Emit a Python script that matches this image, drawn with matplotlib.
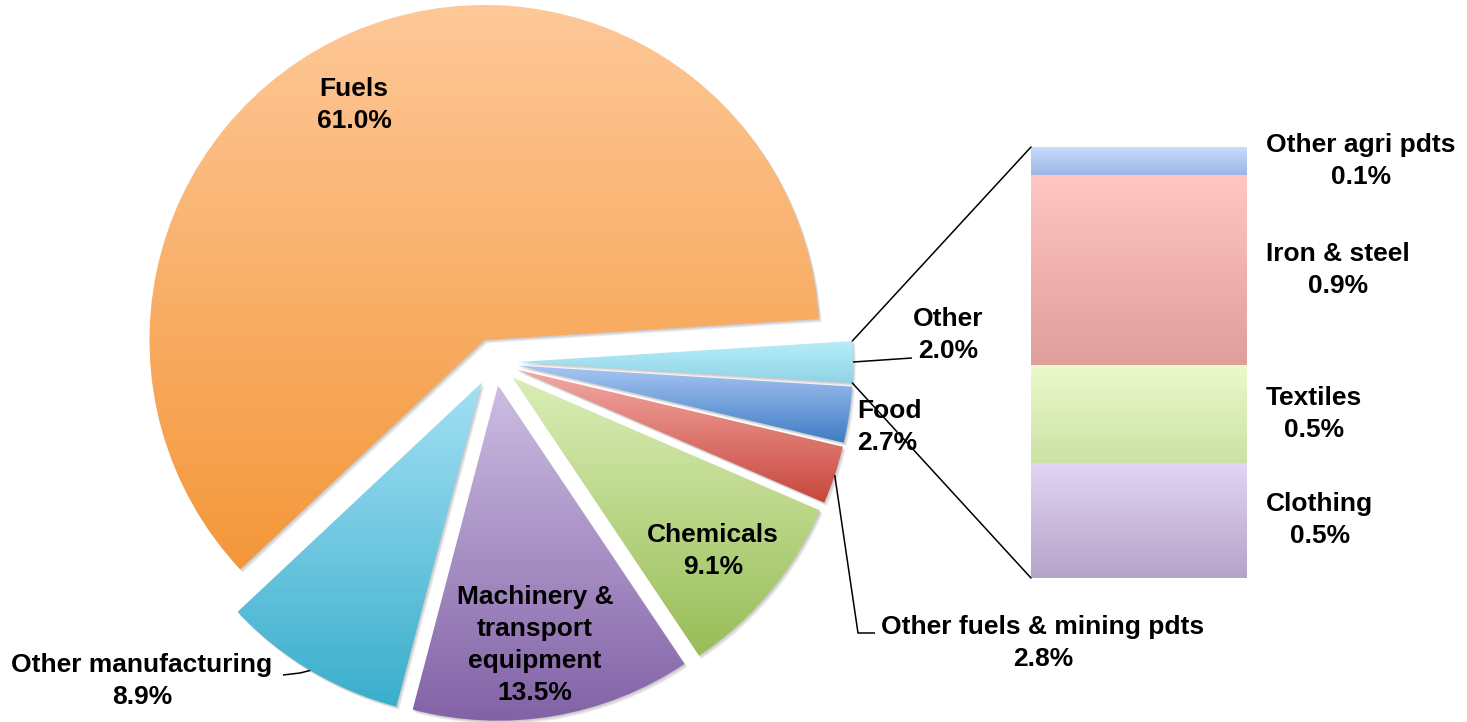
import numpy as np
import matplotlib
matplotlib.use("Agg")
import matplotlib.pyplot as plt
from matplotlib.colors import LinearSegmentedColormap
from matplotlib.patches import ConnectionPatch
import matplotlib.patheffects as pe

# ---------------- data ----------------
pie_labels = ["Other", "Food", "Other fuels & mining pdts", "Chemicals",
              "Machinery &\ntransport\nequipment", "Other manufacturing", "Fuels"]
pie_values = [2.0, 2.7, 2.8, 9.1, 13.5, 8.9, 61.0]
pie_top = ["#B8EEFA", "#A8C6F2", "#F3AAA5", "#DAEEB6", "#CCBDE2", "#A3E0F4", "#FEC898"]
pie_bottom = ["#8FD3E5", "#3E7CC4", "#C8463C", "#98BD57", "#8262A6", "#3AAECC", "#F4973A"]

bar_labels = ["Clothing", "Textiles", "Iron & steel", "Other agri pdts"]
bar_values = [0.54, 0.46, 0.89, 0.13]
bar_top = ["#E3D5F3", "#ECFACB", "#FFC6C3", "#C7DCFF"]
bar_bottom = ["#B4A4C9", "#CCE2A5", "#E09E9B", "#9CB5E3"]

# ---------------- layout (pixels) ----------------
W, H = 1467, 722
CX, CY, R, EXPL = 494, H - 362, 335, 24

plt.rcParams["font.family"] = ["Liberation Sans", "DejaVu Sans"]
FS = 19
LS = 1.43

fig = plt.figure(figsize=(W / 100, H / 100), dpi=100)
ax = fig.add_axes([0, 0, 1, 1])

wedges, _ = ax.pie(pie_values, radius=R, center=(CX, CY), explode=[EXPL] * len(pie_values),
                   startangle=3.6 * pie_values[0] / 2, counterclock=False,
                   wedgeprops=dict(linewidth=0))


def grad_fill(axis, patch, c_top, c_bot, extent):
    cmap = LinearSegmentedColormap.from_list("g", [c_bot, c_top])
    g = np.linspace(0, 1, 256).reshape(-1, 1)
    im = axis.imshow(g, extent=extent, origin="lower", cmap=cmap, aspect="auto",
                     interpolation="bilinear", zorder=patch.get_zorder() + 0.5)
    im.set_clip_path(patch)
    return im


def shadow_fx(dx, dy):
    # soft shadow built from a few stacked, slightly offset translucent copies
    return [pe.SimplePatchShadow(offset=(dx * k, dy * k), shadow_rgbFace="#707070", alpha=0.11)
            for k in (1.0, 0.75, 0.5, 0.25)]


for w, ct, cb in zip(wedges, pie_top, pie_bottom):
    w.set_facecolor("none")
    w.set_path_effects(shadow_fx(2.0, -2.4))
    ext = w.get_path().get_extents()
    grad_fill(ax, w, ct, cb, (ext.x0, ext.x1, ext.y0, ext.y1))


def arc_point(w, frac=0.5):
    a = np.deg2rad(w.theta1 + (w.theta2 - w.theta1) * frac)
    return (w.center[0] + w.r * np.cos(a), w.center[1] + w.r * np.sin(a))


txt = dict(fontsize=FS, fontweight="bold", color="black", linespacing=LS)


def label(i):
    return f"{pie_labels[i]}\n{pie_values[i]:.1f}%"


# labels inside slices
ax.text(354, H - 105, label(6), ha="center", va="center", **txt)
ax.text(535, H - 645, label(4), ha="center", va="center", **txt)
ax.text(713, H - 551, label(3), ha="center", va="center", **txt)
# outside labels
ax.text(142, H - 681, label(5), ha="center", va="center", **txt)
ax.text(1043, H - 643, label(2), ha="center", va="center", **txt)
ax.text(857, H - 427, label(1), ha="left", va="center", multialignment="left", **txt)
ax.text(948, H - 335, label(0), ha="center", va="center", **txt)

# leader lines
lk = dict(color="black", lw=1.1, solid_capstyle="butt", zorder=5)
p = arc_point(wedges[5])
ax.plot([p[0], 300, 283], [p[1], H - 673, H - 675], **lk)
p = arc_point(wedges[2])
ax.plot([p[0], 858, 875], [p[1], H - 633, H - 633], **lk)
p = arc_point(wedges[0])
ax.plot([p[0], 912], [p[1], H - 358], **lk)

ax.set_xlim(0, W)
ax.set_ylim(0, H)
ax.axis("off")

# ---------------- bar of pie ----------------
bax = fig.add_axes([1031 / W, (H - 578) / H, 216 / W, 431 / H])
bottoms = np.concatenate([[0], np.cumsum(bar_values)[:-1]])
bars = bax.bar(0, bar_values, bottom=bottoms, width=1, linewidth=0)
for b, ct, cb, bt, v, name in zip(bars, bar_top, bar_bottom, bottoms, bar_values, bar_labels):
    b.set_facecolor("none")
    b.set_path_effects(shadow_fx(2.4, -2.0))
    grad_fill(bax, b, ct, cb, (-0.5, 0.5, bt, bt + v))
    bax.annotate(f"{name}\n{v:.1f}%", xy=(0.5, bt + v / 2), xycoords="data",
                 xytext=(13.7, 0), textcoords="offset points", ha="left", va="center",
                 multialignment="center", annotation_clip=False, **txt)
total = float(np.sum(bar_values))
bax.set_xlim(-0.5, 0.5)
bax.set_ylim(0, total)
bax.axis("off")

# connector lines between "Other" slice and the bar
w0 = wedges[0]
top_corner = arc_point(w0, 1.0)
bot_corner = arc_point(w0, 0.0)
if top_corner[1] < bot_corner[1]:
    top_corner, bot_corner = bot_corner, top_corner
for pa, pb in [(top_corner, (-0.5, total)), (bot_corner, (-0.5, 0))]:
    con = ConnectionPatch(xyA=pa, coordsA=ax.transData, xyB=pb, coordsB=bax.transData,
                          color="black", lw=1.1, zorder=6)
    fig.add_artist(con)

fig.savefig("out.png", dpi=100)
